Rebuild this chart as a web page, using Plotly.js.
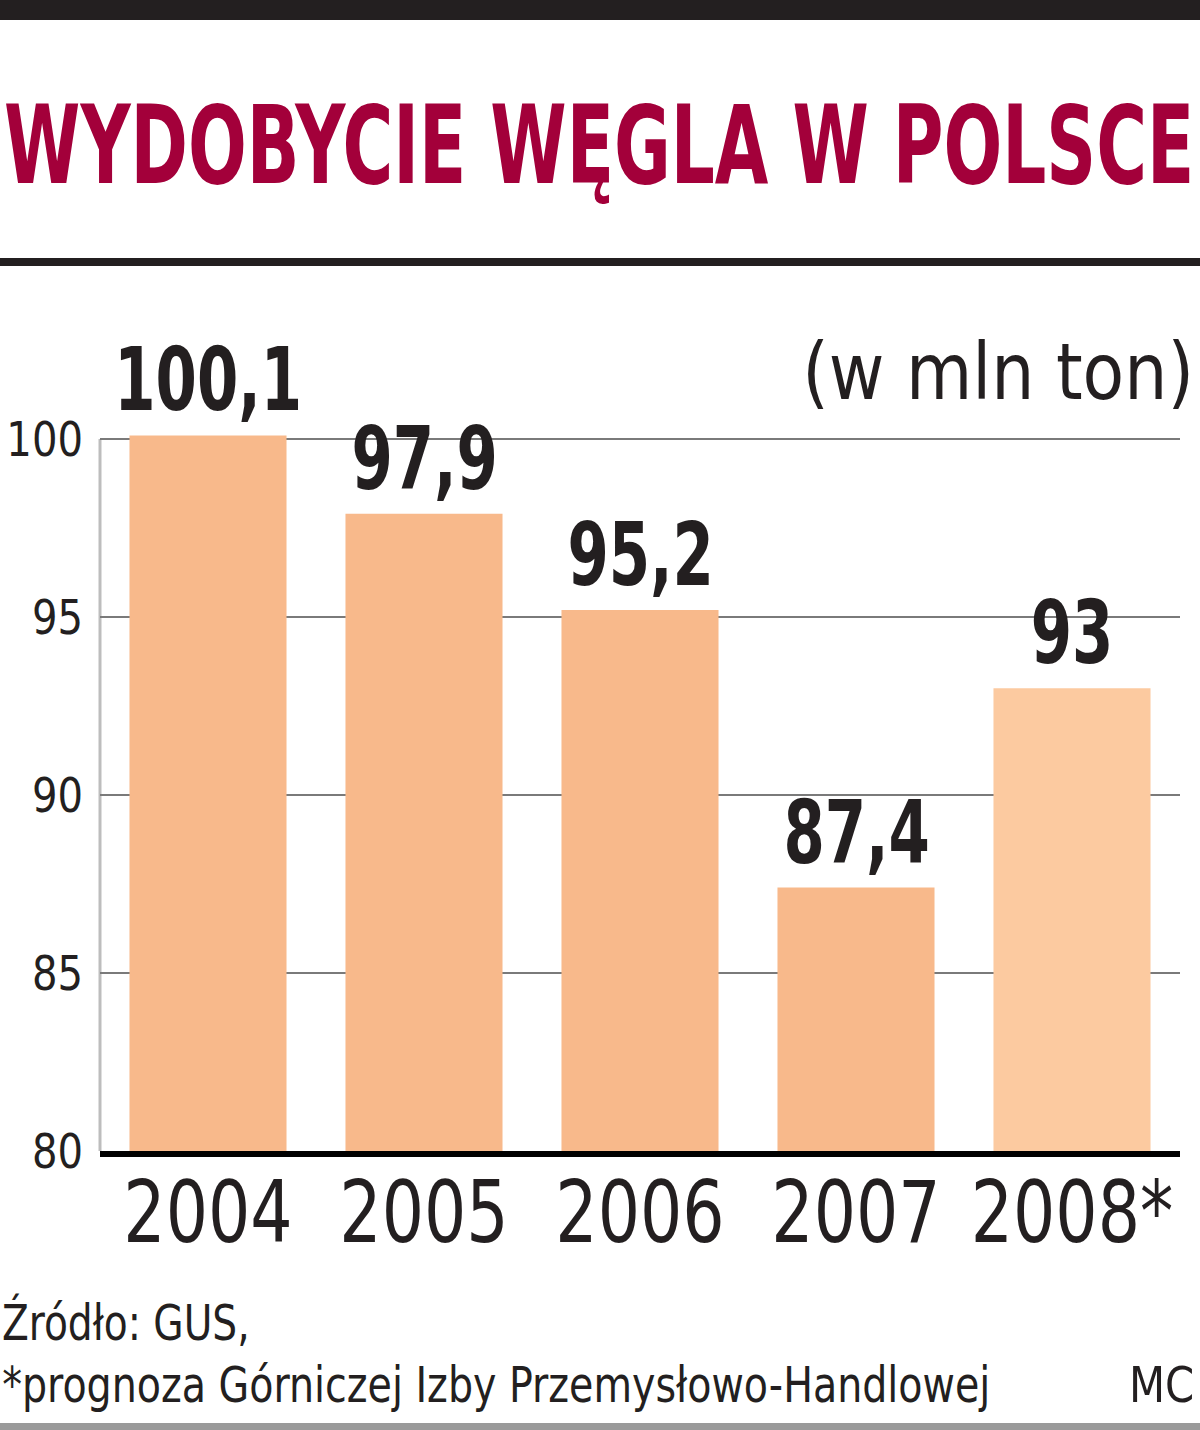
<!doctype html>
<html lang="pl">
<head>
    <meta charset="UTF-8">
    <title>Wydobycie węgla w Polsce</title>
    <script src="https://cdn.plot.ly/plotly-3.0.1.min.js"></script>
    <style>
        body { margin: 0; background: #fff; }
        #chart { width: 1200px; height: 1430px; }
    </style>
</head>
<body>
    <div id="chart"></div>

    <script>
        // data
        const years = ['2004', '2005', '2006', '2007', '2008*'];
        const output = [100.1, 97.9, 95.2, 87.4, 93];
        const barColors = ['#f8b98b', '#f8b98b', '#f8b98b', '#f8b98b', '#fccaa0'];
        const yTicks = [80, 85, 90, 95, 100];

        const COND = '"DejaVu Sans Condensed", "DejaVu Sans", sans-serif';
        const INK = '#231f20';

        // plot area in pixels: x 100..1180, y 83..1151
        const L = 100, R = 1180, T = 83, B = 1151;
        const px = x => (x - L) / (R - L);
        const py = y => (B - y) / (B - T);

        const trace = {
            type: 'bar',
            x: years.map((_, i) => i),
            y: output,
            marker: { color: barColors, line: { width: 0 } },
            hoverinfo: 'skip'
        };

        // value labels above the bars (index -> category)
        const valueLabels = years.map((yr, i) => ({
            x: i,
            y: output[i],
            xref: 'x', yref: 'y',
            xanchor: 'center',
            yanchor: 'bottom',
            yshift: 2,
            showarrow: false,
            text: '<b>' + String(output[i]).replace('.', ',') + '</b>',
            font: { family: COND, size: 88, color: INK },
            squeeze: 0.75
        }));

        const textNotes = [
            {
                x: px(2), y: py(145), xanchor: 'left', yanchor: 'middle',
                text: '<b>WYDOBYCIE WĘGLA W POLSCE</b>',
                font: { family: COND, size: 108, color: '#a3003a' },
                squeeze: 0.712
            },
            {
                x: px(1196), y: py(372), xanchor: 'right', yanchor: 'middle',
                text: '(w mln ton)',
                font: { family: COND, size: 78, color: INK },
                squeeze: 0.97
            },
            {
                x: px(0), y: py(1322), xanchor: 'left', yanchor: 'middle',
                text: 'Źródło: GUS,',
                font: { family: COND, size: 50, color: INK },
                squeeze: 0.87
            },
            {
                x: px(0), y: py(1385), xanchor: 'left', yanchor: 'middle',
                text: '*prognoza Górniczej Izby Przemysłowo-Handlowej',
                font: { family: COND, size: 50, color: INK },
                squeeze: 0.88
            },
            {
                x: px(1196), y: py(1385), xanchor: 'right', yanchor: 'middle',
                text: 'MC',
                font: { family: COND, size: 50, color: INK },
                squeeze: 0.93
            }
        ].map(a => Object.assign({ xref: 'paper', yref: 'paper', showarrow: false }, a));

        const allNotes = valueLabels.concat(textNotes);
        const squeezeBy = allNotes.map(a => ({ s: a.squeeze, side: a.xanchor }));
        allNotes.forEach(a => delete a.squeeze);

        const rule = (y0, y1, color) => ({
            type: 'rect', xref: 'paper', yref: 'paper',
            x0: px(0), x1: px(1200), y0: py(y1), y1: py(y0),
            fillcolor: color, line: { width: 0 }, layer: 'above'
        });

        const layout = {
            width: 1200,
            height: 1430,
            margin: { l: L, r: 1200 - R, t: T, b: 1430 - B, pad: 0 },
            paper_bgcolor: '#fff',
            plot_bgcolor: '#fff',
            showlegend: false,
            bargap: 0.273,
            xaxis: {
                range: [-0.5, years.length - 0.5],
                tickvals: years.map((_, i) => i),
                ticktext: years,
                tickangle: 0,
                showgrid: false,
                zeroline: false,
                showline: true,
                linecolor: '#000',
                linewidth: 6,
                ticks: '',
                ticklabelstandoff: -18,
                tickfont: { family: COND, size: 86, color: INK },
                fixedrange: true
            },
            yaxis: {
                range: [80, 110],
                tickvals: yTicks,
                ticktext: yTicks.map(String),
                showgrid: true,
                gridcolor: '#7a7a7a',
                gridwidth: 2,
                zeroline: false,
                showline: false,
                ticks: '',
                ticklabelstandoff: 16,
                tickfont: { family: COND, size: 48, color: INK },
                fixedrange: true
            },
            annotations: allNotes,
            shapes: [
                rule(0, 20, INK),
                rule(258, 266, INK),
                rule(1423, 1430, '#9a9a9a'),
                // left axis rule, only from 80 up to 100
                {
                    type: 'line', xref: 'paper', yref: 'y',
                    x0: 0, x1: 0, y0: 80, y1: 100,
                    line: { color: '#bdbdbd', width: 3 }, layer: 'below'
                }
            ]
        };

        // narrow the DejaVu glyphs horizontally to get the condensed newspaper look
        function squeeze(el, s, side) {
            const box = el.getBBox();
            let ox = box.x + box.width / 2;
            if (side === 'left') ox = box.x;
            if (side === 'right') ox = box.x + box.width;
            const prev = el.getAttribute('transform') || '';
            el.setAttribute('transform',
                prev + ' translate(' + ox + ',0) scale(' + s + ',1) translate(' + (-ox) + ',0)');
        }

        Plotly.newPlot('chart', [trace], layout, { displayModeBar: false, staticPlot: true })
            .then(gd => {
                gd.querySelectorAll('g.annotation').forEach(g => {
                    const k = +g.getAttribute('data-index');
                    const t = g.querySelector('text.annotation-text');
                    const q = squeezeBy[k];
                    if (t && q && q.s) squeeze(t, q.s, q.side);
                });
                gd.querySelectorAll('g.xtick text').forEach(t => squeeze(t, 0.86, 'center'));
                gd.querySelectorAll('g.ytick text').forEach(t => squeeze(t, 0.93, 'right'));
            });
    </script>
</body>
</html>
